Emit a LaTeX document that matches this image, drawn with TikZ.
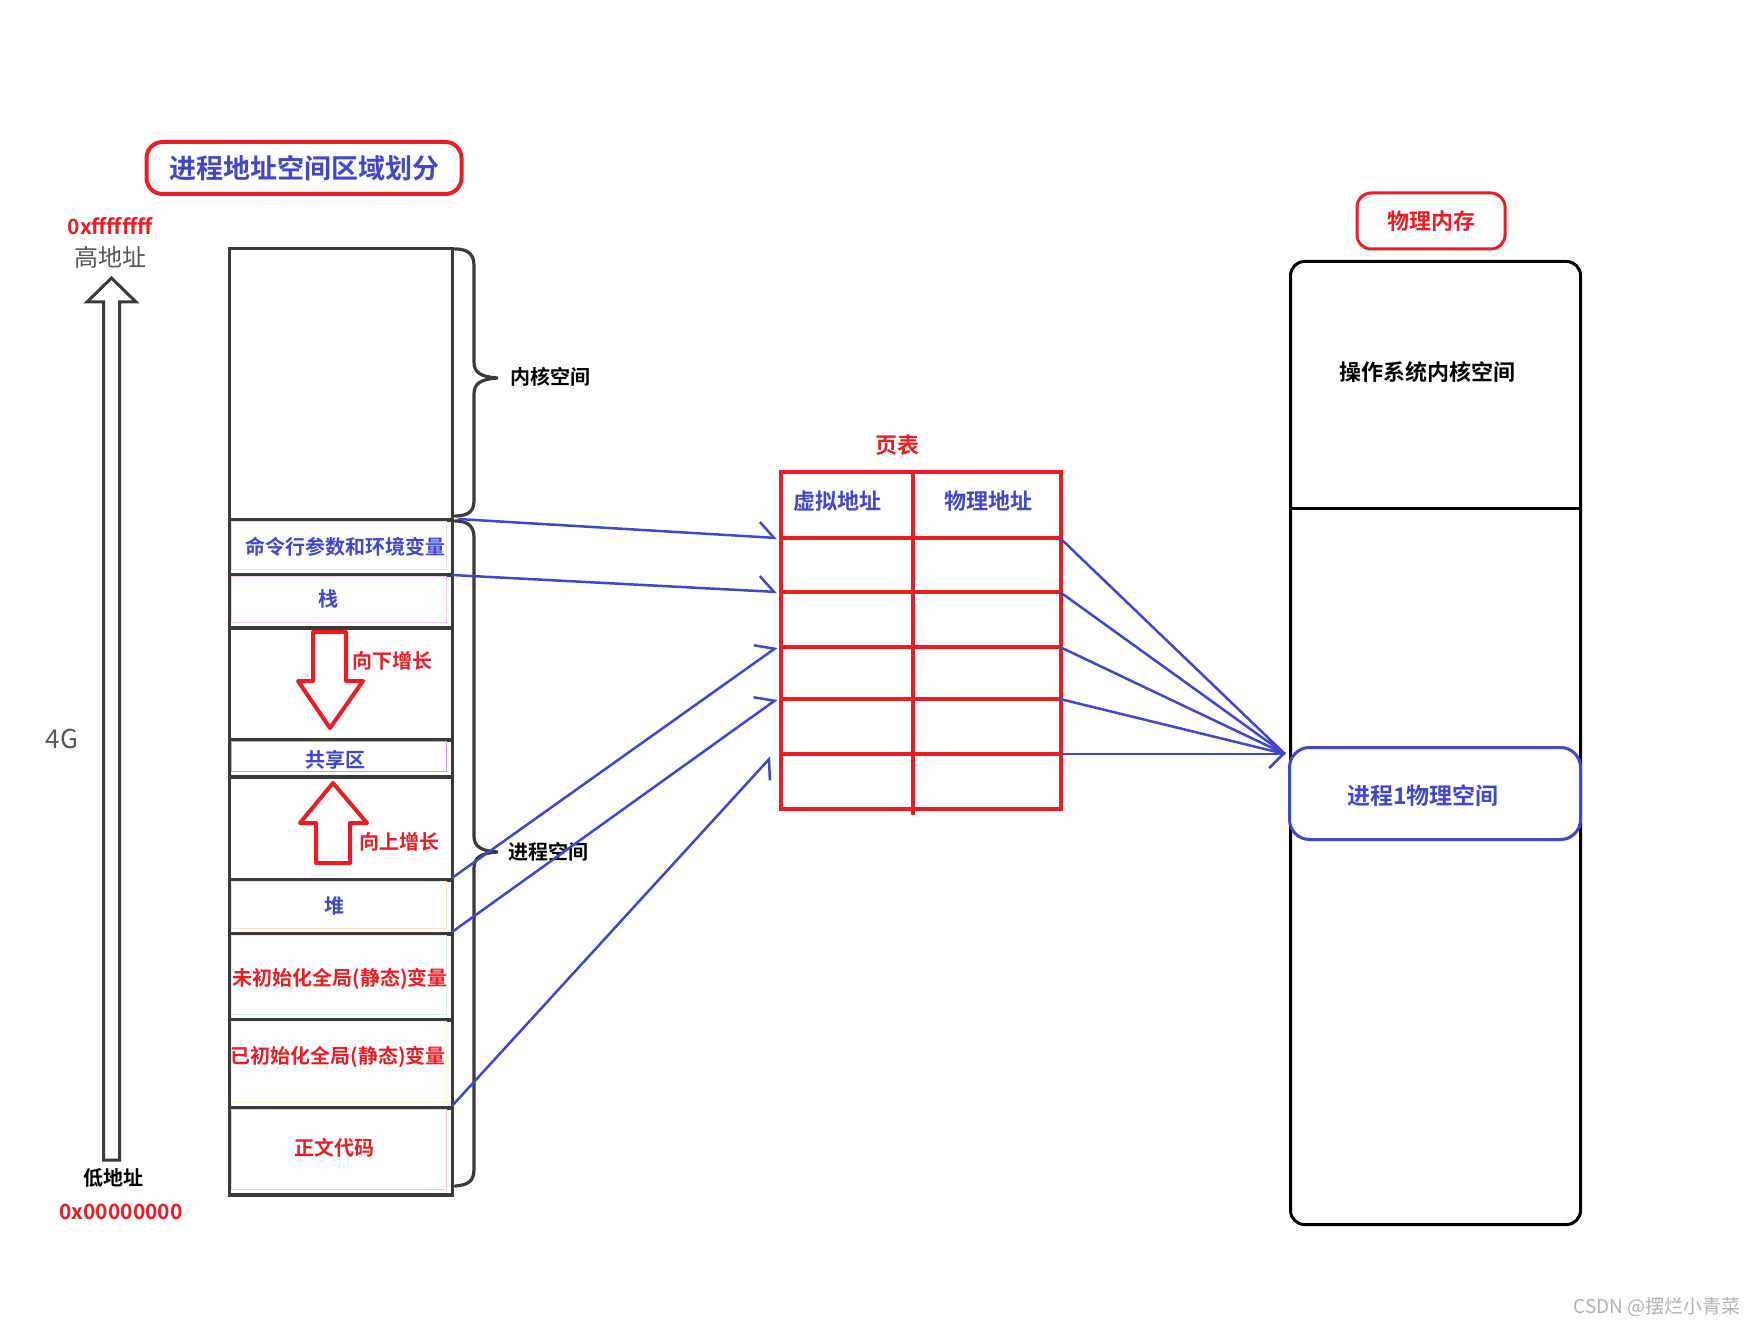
\documentclass[tikz,border=0pt]{standalone}
\usepackage{fontspec}
\setmainfont{Noto Sans CJK SC}[BoldFont={Noto Sans CJK SC Bold}]
\usetikzlibrary{arrows.meta}
\definecolor{pblue}{HTML}{3F48CC}
\definecolor{pred}{HTML}{ED1C24}
\definecolor{dgray}{HTML}{3A3A3A}
\newcommand{\fsz}[1]{\fontsize{#1}{#1}\selectfont}
\begin{document}
\begin{tikzpicture}[x=1pt,y=-1pt,
  rowbox/.style={draw=dgray, line width=3.5pt, minimum width=223pt, anchor=north west, inner sep=0pt},
  inner/.style={line width=1pt},
  lblb/.style={font=\bfseries\fsz{20}, text=pblue, inner sep=0pt},
  lblr/.style={font=\bfseries\fsz{20}, text=pred, inner sep=0pt},
  lblk/.style={font=\bfseries\fsz{20}, text=black, inner sep=0pt},
  brace/.style={draw=dgray, line width=3.2pt, line cap=round},
  hollow/.style={draw=dgray, line width=3pt, line join=miter},
  redarrow/.style={draw=pred, line width=4pt, line join=round},
  tline/.style={draw=pred, line width=3.5pt},
  bline/.style={draw=pblue, line width=2.5pt},
  harp/.style={-{Straight Barb[harpoon,length=15pt,width=30pt,line width=2.5pt]}},
  harpsw/.style={-{Straight Barb[harpoon,swap,length=15pt,width=30pt,line width=2.5pt]}},
  fullbarb/.style={-{Straight Barb[length=14pt,width=28pt,line width=2.5pt]}}
]
\fill[white] (0,0) rectangle (1756,1329);
\useasboundingbox (0,0) rectangle (1756,1329);

% title
\node[draw=pred, line width=4pt, rounded corners=16pt, minimum width=315pt, minimum height=52pt,
      font=\bfseries\fsz{27}, text=pblue, inner sep=0pt] (title) at (304,168) {进程地址空间区域划分};

% address axis
\node[font=\bfseries\fsz{21}, text=pred, inner sep=0pt] (hex1) at (110,226) {0xffffffff};
\node[font=\fsz{24}, text=dgray!85, inner sep=0pt] (hi) at (110,257) {高地址};
\draw[hollow] (111.5,278) -- (136,302) -- (119.5,302) -- (119.5,1160) -- (103.5,1160) -- (103.5,302) -- (87,302) -- cycle;
\node[font=\fsz{26}, text=dgray!85, inner sep=0pt] (fourg) at (62,739) {4G};
\node[font=\bfseries\fsz{20}, text=black, inner sep=0pt] (lo) at (113,1178) {低地址};
\node[font=\bfseries\fsz{21}, text=pred, inner sep=0pt] (hex0) at (121,1212) {0x00000000};

% left column
\node[rowbox, minimum height=271pt] (kern)  at (227.5,247) {};
\node[rowbox, minimum height=55pt]  (cmd)   at (227.5,518) {};
\node[rowbox, minimum height=53pt]  (stack) at (227.5,573) {};
\node[rowbox, minimum height=112pt] (gap1)  at (227.5,626) {};
\node[rowbox, minimum height=37pt]  (share) at (227.5,738) {};
\node[rowbox, minimum height=103pt] (gap2)  at (227.5,775) {};
\node[rowbox, minimum height=54pt]  (heap)  at (227.5,878) {};
\node[rowbox, minimum height=86pt]  (bss)   at (227.5,932) {};
\node[rowbox, minimum height=88pt]  (data)  at (227.5,1018) {};
\node[rowbox, minimum height=87pt]  (code)  at (227.5,1106) {};

% faint inner borders
\draw[inner, draw=gray!25] (231.5,521.5) rectangle (446.5,569);
\draw[inner, draw={rgb,255:red,248;green,200;blue,244}] (231.5,576.5) rectangle (446.5,622.5);
\draw[inner, draw={rgb,255:red,215;green,150;blue,230}] (231.5,741.5) rectangle (446.5,771.5);
\draw[inner, draw={rgb,255:red,248;green,225;blue,205}] (231.5,881.5) rectangle (446.5,928.5);
\draw[inner, draw={rgb,255:red,215;green,245;blue,222}] (231.5,935.5) rectangle (446.5,1014.5);
\draw[inner, draw={rgb,255:red,248;green,245;blue,200}] (231.5,1021.5) rectangle (446.5,1102.5);
\draw[inner, draw={rgb,255:red,245;green,200;blue,200}] (231.5,1109.5) rectangle (446.5,1189.5);

% labels in column
\node[lblb] (tcmd)   at (345,547) {命令行参数和环境变量};
\node[lblb] (tstack) at (328,599) {栈};
\node[lblb] (tshare) at (335,760) {共享区};
\node[lblb] (theap)  at (334,906) {堆};
\node[lblr] (tbss)   at (340,979) {未初始化全局(静态)变量};
\node[lblr] (tdata)  at (338,1057) {已初始化全局(静态)变量};
\node[lblr] (tcode)  at (334,1148) {正文代码};

% growth arrows
\draw[redarrow] (313,632) -- (346,632) -- (346,681) -- (363,681) -- (330,728) -- (298,681) -- (313,681) -- cycle;
\node[lblr, anchor=west] (tdown) at (352,661) {向下增长};
\draw[redarrow] (333,783) -- (367,823) -- (350,823) -- (350,863) -- (316,863) -- (316,823) -- (300,823) -- cycle;
\node[lblr, anchor=west] (tup) at (359,842) {向上增长};

% braces
\draw[brace] (455,249) .. controls (470,249) and (474,256) .. (474,266) -- (474,362)
  .. controls (474,372) and (480,377) .. (498,378)
  .. controls (480,379) and (474,384) .. (474,394) -- (474,500)
  .. controls (474,510) and (470,516) .. (455,516);
\node[lblk, anchor=west] (tkern) at (510,377) {内核空间};
\draw[brace] (455,521) .. controls (470,521) and (474,528) .. (474,538) -- (474,836)
  .. controls (474,846) and (480,851) .. (498,852)
  .. controls (480,853) and (474,858) .. (474,868) -- (474,1168)
  .. controls (474,1180) and (470,1185) .. (455,1186);
\node[lblk, anchor=west] (tproc) at (508,852) {进程空间};

% page table
\node[font=\bfseries\fsz{22}, text=pred, inner sep=0pt] (tpt) at (897,445) {页表};
\node[draw=pred, line width=3.5pt, minimum width=280pt, minimum height=337pt, anchor=north west, inner sep=0pt] (tbl) at (779,470) {};
\draw[tline] (913,470) -- (913,815);
\foreach \yy/\nm in {538/1,592/2,647/3,699/4,754/5}{
  \draw[tline] (779,\yy) -- (1059,\yy);
  \coordinate (vL\nm) at (777,\yy);
  \coordinate (pR\nm) at (1060,\yy);
}
\node[font=\bfseries\fsz{22}, text=pblue, inner sep=0pt] (tva) at (837,501) {虚拟地址};
\node[font=\bfseries\fsz{22}, text=pblue, inner sep=0pt] (tpa) at (988,501) {物理地址};

% physical memory
\node[draw=pred, line width=3pt, rounded corners=14pt, minimum width=148pt, minimum height=56pt,
      font=\bfseries\fsz{22}, text=pred, inner sep=0pt] (tpm) at (1431,221) {物理内存};
\node[draw=black, line width=3pt, rounded corners=14pt, minimum width=290pt, minimum height=963pt, anchor=north west, inner sep=0pt] (phys) at (1289,260) {};
\draw[black, line width=3pt] (1289,508) -- (1579,508);
\node[font=\bfseries\fsz{22}, text=black, inner sep=0pt] (tos) at (1427,372) {操作系统内核空间};
\node[draw=pblue, fill=white, line width=3pt, rounded corners=20pt, minimum width=291pt, minimum height=92pt, anchor=north west,
      inner sep=0pt] (p1) at (1288,746) {};
\node[font=\bfseries\fsz{23}, text=pblue, inner sep=0pt] (tp1) at (1423,796) {进程1物理空间};
\coordinate (tgt) at (1285,754);

% blue mapping arrows (virtual -> page table)
\coordinate (s1) at (458,519);
\coordinate (s2) at (452,575);
\coordinate (s3) at (452,878);
\coordinate (s4) at (452,932);
\coordinate (s5) at (452,1106);
\draw[bline, harp] (s1) -- (vL1);
\draw[bline, harp] (s2) -- (vL2);
\draw[bline, harp] (s3) -- (vL3);
\draw[bline, harp] (s4) -- (vL4);
\draw[bline, harpsw] (s5) -- (771,757);

% page table -> physical
\draw[bline] (pR1) -- (tgt);
\draw[bline] (pR2) -- (tgt);
\draw[bline] (pR3) -- (tgt);
\draw[bline] (pR4) -- (tgt);
\draw[bline, fullbarb] (pR5) -- (tgt);

% watermark
\node[anchor=east, font=\fsz{19}, text=gray!60, inner sep=0pt] (wm) at (1741,1307) {CSDN @摆烂小青菜};
\end{tikzpicture}
\end{document}
